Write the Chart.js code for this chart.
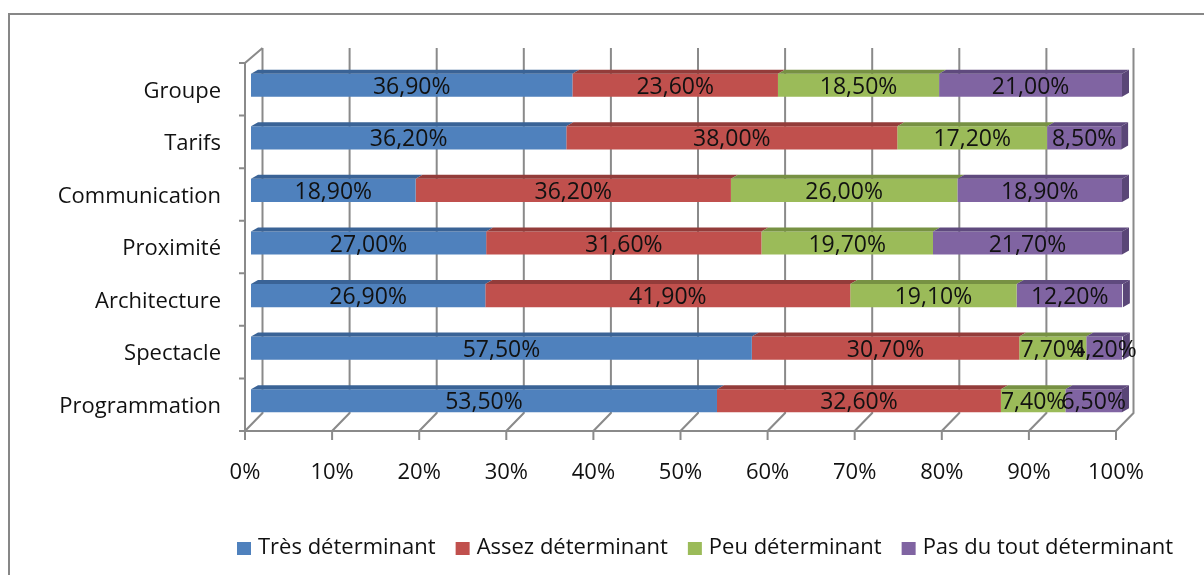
<!DOCTYPE html>
<html>
<head>
<meta charset="utf-8">
<script src="https://cdn.jsdelivr.net/npm/chart.js@4.4.1/dist/chart.umd.min.js"></script>
<style>
	html, body { margin: 0; padding: 0; background: #fff; }
	#wrap { width: 1204px; height: 575px; position: relative; }
</style>
</head>
<body>
<div id="wrap"><canvas id="chart"></canvas></div>
<script>
// categories, top to bottom
const categories = ['Groupe', 'Tarifs', 'Communication', 'Proximité', 'Architecture', 'Spectacle', 'Programmation']

// series values (%)
const tresDeterminant = [36.9, 36.2, 18.9, 27.0, 26.9, 57.5, 53.5]
const assezDeterminant = [23.6, 38.0, 36.2, 31.6, 41.9, 30.7, 32.6]
const peuDeterminant = [18.5, 17.2, 26.0, 19.7, 19.1, 7.7, 7.4]
const pasDuToutDeterminant = [21.0, 8.5, 18.9, 21.7, 12.2, 4.2, 6.5]

const seriesNames = ['Très déterminant', 'Assez déterminant', 'Peu déterminant', 'Pas du tout déterminant']

// x axis ticks
const xTicks = [0, 10, 20, 30, 40, 50, 60, 70, 80, 90, 100]

const colors = ['#4F81BD', '#C0504D', '#9BBB59', '#8064A2']
const topColors = ['#3A6396', '#933C3A', '#779143', '#5F4A7E']
const sideColors = ['#375D8C', '#8A3836', '#708840', '#5A4677']

const FONT = '"Open Sans"'
const FRONT = -6   // front axis offset from bar start
const DEPTH = 17.5 // back wall offset

// outer frame, 3d walls and grid, bar faces, labels, legend
const wallsPlugin = {
	id: 'walls',
	beforeDraw(chart) {
		const ctx = chart.ctx
		ctx.save()
		ctx.fillStyle = '#fff'
		ctx.fillRect(0, 0, chart.width, chart.height)
		ctx.strokeStyle = '#878787'
		ctx.lineWidth = 2
		ctx.strokeRect(9, 14, 1400, 800)
		ctx.restore()
	},
	beforeDatasetsDraw(chart) {
		const ctx = chart.ctx
		const xs = chart.scales.x
		const area = chart.chartArea
		const frontY = area.bottom + 4
		const backY = area.bottom - 14
		const backTop = area.top - 11
		const frontTop = area.top + 4
		ctx.save()
		ctx.strokeStyle = '#8a8a8a'
		ctx.lineWidth = 2
		ctx.beginPath()
		xTicks.forEach(v => {
			const xf = xs.getPixelForValue(v) + FRONT
			const xb = xf + DEPTH
			ctx.moveTo(xb, backTop)
			ctx.lineTo(xb, backY)
			ctx.lineTo(xf, frontY)
			ctx.lineTo(xf, frontY + 9)
		})
		const x0 = xs.getPixelForValue(0) + FRONT
		const x1 = xs.getPixelForValue(100) + FRONT
		ctx.moveTo(x0, frontY)
		ctx.lineTo(x1, frontY)
		ctx.moveTo(x0, frontY)
		ctx.lineTo(x0, frontTop)
		ctx.lineTo(x0 + DEPTH, backTop)
		const step = (area.bottom - area.top) / categories.length
		for (let k = 0; k <= categories.length; k++) {
			const y = frontTop + k * step
			ctx.moveTo(x0, y)
			ctx.lineTo(x0 - 6, y)
		}
		ctx.stroke()
		ctx.restore()
	},
	afterDatasetsDraw(chart) {
		const ctx = chart.ctx
		ctx.save()
		chart.data.datasets.forEach((ds, i) => {
			const meta = chart.getDatasetMeta(i)
			meta.data.forEach(bar => {
				const top = bar.y - bar.height / 2
				const bottom = bar.y + bar.height / 2
				ctx.fillStyle = topColors[i]
				ctx.beginPath()
				ctx.moveTo(bar.base, top)
				ctx.lineTo(bar.x, top)
				ctx.lineTo(bar.x + 7, top - 4)
				ctx.lineTo(bar.base + 7, top - 4)
				ctx.closePath()
				ctx.fill()
				if (i === chart.data.datasets.length - 1) {
					ctx.fillStyle = sideColors[i]
					ctx.beginPath()
					ctx.moveTo(bar.x, top)
					ctx.lineTo(bar.x + 7, top - 4)
					ctx.lineTo(bar.x + 7, bottom - 4)
					ctx.lineTo(bar.x, bottom)
					ctx.closePath()
					ctx.fill()
				}
			})
		})
		// value labels
		ctx.fillStyle = '#111'
		ctx.font = '23px ' + FONT
		ctx.textAlign = 'center'
		ctx.textBaseline = 'middle'
		chart.data.datasets.forEach((ds, i) => {
			const meta = chart.getDatasetMeta(i)
			meta.data.forEach((bar, j) => {
				const txt = ds.data[j].toFixed(2).replace('.', ',') + '%'
				ctx.fillText(txt, (bar.x + bar.base) / 2, bar.y + 2)
			})
		})
		ctx.restore()
	},
	afterDraw(chart) {
		// legend
		const ctx = chart.ctx
		ctx.save()
		ctx.font = '22px ' + FONT
		ctx.textBaseline = 'middle'
		ctx.textAlign = 'left'
		let x = 237
		const y = 548
		seriesNames.forEach((name, i) => {
			ctx.fillStyle = colors[i]
			ctx.fillRect(x, y - 6, 14, 13)
			x += 14 + 7
			ctx.fillStyle = '#111'
			ctx.fillText(name, x, y)
			x += ctx.measureText(name).width + 20
		})
		ctx.restore()
	}
}

const seriesData = [tresDeterminant, assezDeterminant, peuDeterminant, pasDuToutDeterminant]

const ctx = document.getElementById('chart').getContext('2d')
const chart = new Chart(ctx, {
	type: 'bar',
	data: {
		labels: categories,
		datasets: seriesData.map((d, i) => ({
			label: seriesNames[i],
			data: d,
			backgroundColor: colors[i],
			borderWidth: 0,
			categoryPercentage: 0.44,
			barPercentage: 1,
		})),
	},
	options: {
		indexAxis: 'y',
		responsive: true,
		maintainAspectRatio: false,
		animation: false,
		layout: { padding: { top: 59, right: 82, bottom: 0, left: 0 } },
		scales: {
			x: {
				stacked: true,
				min: 0,
				max: 100,
				grid: { display: false, drawTicks: false },
				border: { display: false },
				afterBuildTicks(scale) {
					scale.ticks = xTicks.map(v => ({ value: v }))
				},
				afterFit(scale) { scale.height = 148 },
				ticks: {
					color: '#111',
					font: { size: 22, family: FONT },
					padding: 33,
					labelOffset: -6,
					maxRotation: 0,
					callback: v => v + '%',
				},
			},
			y: {
				stacked: true,
				grid: { display: false, drawTicks: false },
				border: { display: false },
				afterFit(scale) { scale.width = 251 },
				ticks: {
					color: '#111',
					font: { size: 22, family: FONT },
					padding: 30,
					labelOffset: 6,
				},
			},
		},
		plugins: {
			tooltip: { enabled: false },
			legend: { display: false },
		},
	},
	plugins: [wallsPlugin],
})
</script>
</body>
</html>
